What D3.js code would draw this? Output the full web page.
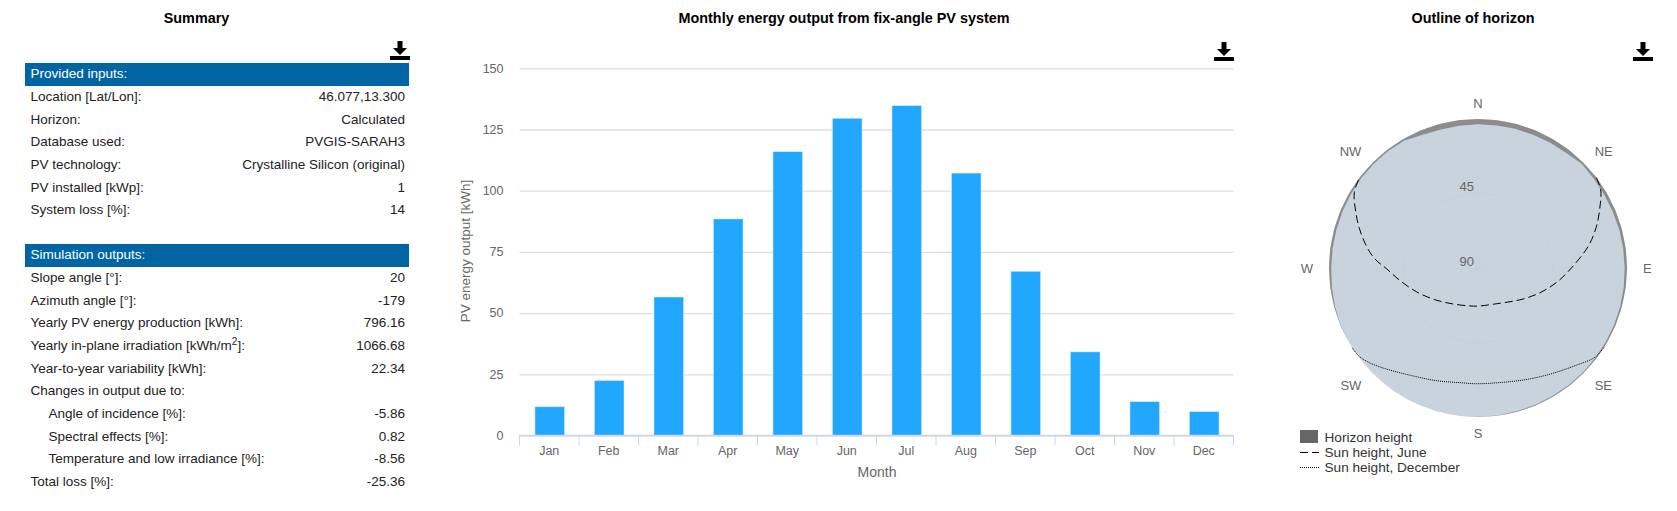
<!DOCTYPE html>
<html>
<head>
<meta charset="utf-8">
<script src="https://cdn.jsdelivr.net/npm/d3@7"></script>
<style>
    html, body { margin: 0; padding: 0; background: #fff; overflow: hidden; }
    svg { display: block; font-family: "Liberation Sans", Arial, sans-serif; }
    .title { font-size: 14.4px; font-weight: bold; text-anchor: middle; fill: #000; }
    .row { font-size: 13.5px; fill: #222; }
    .tick text { font-size: 12.5px; fill: #666; }
</style>
</head>
<body>
<div id="grafica"></div>
<script>
// summary table
const inputLabels = ["Location [Lat/Lon]:", "Horizon:", "Database used:", "PV technology:", "PV installed [kWp]:", "System loss [%]:"]
const inputValues = ["46.077,13.300", "Calculated", "PVGIS-SARAH3", "Crystalline Silicon (original)", "1", "14"]
const outputLabels = ["Slope angle [°]:", "Azimuth angle [°]:", "Yearly PV energy production [kWh]:", "Yearly in-plane irradiation [kWh/m^2]:", "Year-to-year variability [kWh]:", "Changes in output due to:", "Angle of incidence [%]:", "Spectral effects [%]:", "Temperature and low irradiance [%]:", "Total loss [%]:"]
const outputValues = ["20", "-179", "796.16", "1066.68", "22.34", "", "-5.86", "0.82", "-8.56", "-25.36"]
const indentedRows = [6, 7, 8]

// monthly energy
const months = ["Jan", "Feb", "Mar", "Apr", "May", "Jun", "Jul", "Aug", "Sep", "Oct", "Nov", "Dec"]
const energy = [11.8, 22.5, 56.6, 88.5, 116, 129.6, 134.8, 107.2, 67.1, 34.2, 13.9, 9.8]
const energyTicks = [0, 25, 50, 75, 100, 125, 150]

// horizon, azimuth in degrees from north, heights in degrees
const horizonAz = d3.range(0, 360, 7.5)
const horizonHeight = [3.2, 3.2, 3.0, 2.9, 2.7, 2.4, 1.2, 1.6, 1.8, 1.8, 1.6, 1.5, 1.4, 1.2, 1.0, 0.9, 0.8, 0.7, 0.6, 0.6, 0.6, 0.5, 0.4, 0.2, 0.1, 0, 0, 0, 0, 0, 0, 0, 0, 0.2, 0.5, 1.0, 1.3, 1.4, 1.4, 1.3, 1.2, 1.0, 0.9, 0.9, 1.1, 2.8, 3.4, 3.3]
const juneAz = [52.6, 57.6, 63.9, 70.8, 79, 90, 99.4, 110.8, 124.6, 155, 180, 191.9, 214.5, 233.6, 248.6, 260.8, 269.4, 275, 280.8, 288.5, 294.7, 301.5, 307.4]
const juneHeight = [0, 2.2, 8.1, 14.3, 22.3, 33.6, 41, 49.1, 57, 66, 67, 66.6, 63.6, 57.7, 50.3, 42.3, 34.9, 27.5, 21.6, 14.4, 8.7, 2.4, 0]
const decemberAz = [122, 127.4, 135.3, 146.7, 158.9, 180, 188.9, 200.1, 212.4, 222.1, 228.7, 233.6, 237.9]
const decemberHeight = [0, 1.2, 6.9, 12.9, 17.3, 20.1, 19.9, 17.5, 13.3, 7.7, 3.1, 0.5, 0]
const compass = ["N", "NE", "E", "SE", "S", "SW", "W", "NW"]
const ringTicks = [45, 90]

const svg = d3.select("#grafica").append("svg")
    .attr("width", 1677)
    .attr("height", 511)

function downloadIcon(x, y) {
    const g = svg.append("g").attr("transform", "translate(" + x + "," + y + ")").attr("fill", "#000")
    g.append("path").attr("d", "M7.5 0h5v7h4.5l-7 7-7-7h4.500z")
    g.append("rect").attr("x", 0).attr("y", 15).attr("width", 20).attr("height", 4)
}

function addTitle(text, x) {
    svg.append("text").attr("class", "title").attr("x", x).attr("y", 23).text(text)
}

addTitle("Summary", 196.500)
addTitle("Monthly energy output from fix-angle PV system", 844)
addTitle("Outline of horizon", 1473)
downloadIcon(390, 41)
downloadIcon(1214, 42)
downloadIcon(1633, 42)

// ---- table ----
function tableBlock(heading, top, labels, values) {
    svg.append("rect").attr("x", 25).attr("y", top).attr("width", 384).attr("height", 23).attr("fill", "#0065a2")
    svg.append("text").attr("x", 30.500).attr("y", top + 15).attr("fill", "#fff")
        .style("font-size", "13.5px").text(heading)

    labels.forEach((label, i) => {
        const y = top + 37.800 + i * 22.700
        const isIndented = values === outputValues && indentedRows.includes(i)
        const t = svg.append("text").attr("class", "row").attr("x", isIndented ? 48.500 : 30.500).attr("y", y)
        const parts = label.split("^2")
        t.append("tspan").text(parts[0])
        if (parts.length > 1) {
            t.append("tspan").attr("dy", -5).style("font-size", "10px").text("2")
            t.append("tspan").attr("dy", 5).text(parts[1])
        }
        svg.append("text").attr("class", "row").attr("x", 405).attr("y", y)
            .attr("text-anchor", "end").text(values[i])
    })
}

tableBlock("Provided inputs:", 63, inputLabels, inputValues)
tableBlock("Simulation outputs:", 244, outputLabels, outputValues)

// ---- bar chart ----
const xScale = d3.scaleBand()
    .domain(months)
    .range([519.500, 1233.500])
    .paddingInner(0.5)
    .paddingOuter(0.25)

const yScale = d3.scaleLinear()
    .domain([0, 150])
    .range([435.500, 68.300])

const yAxis = d3.axisLeft(yScale).tickValues(energyTicks).tickSize(-714).tickPadding(16)
const yG = svg.append("g").attr("transform", "translate(519.500,0)").call(yAxis)
yG.select(".domain").remove()
yG.selectAll(".tick line").attr("stroke", "#dedede").attr("stroke-width", 1.3)
yG.selectAll(".tick text").attr("dy", "0.3em")

svg.selectAll("rect.bar")
    .data(energy)
    .enter()
    .append("rect")
    .attr("class", "bar")
    .attr("x", (d, i) => xScale(months[i]) + 0.5)
    .attr("y", d => yScale(d))
    .attr("width", xScale.bandwidth())
    .attr("height", d => yScale(0) - yScale(d))
    .attr("fill", "#22a7ff")
    .attr("stroke", "#fff")
    .attr("stroke-opacity", 0.5)

// band axis ticks sit on the band edges, not the centres
const xG = svg.append("g").attr("transform", "translate(0,435.500)").call(d3.axisBottom(xScale).tickSize(0).tickPadding(11))
xG.select(".domain").attr("stroke", "#ccd6eb").attr("stroke-width", 1.5).attr("d", "M519.500,0H1233.500")
xG.selectAll(".tick text").attr("dy", "0.71em")
const edges = xScale.step()
svg.append("g").selectAll("line")
    .data(d3.range(months.length + 1))
    .enter()
    .append("line")
    .attr("x1", i => 519.500 + i * edges)
    .attr("x2", i => 519.500 + i * edges)
    .attr("y1", 435.500)
    .attr("y2", 445.500)
    .attr("stroke", "#ccd6eb")

svg.append("text")
    .attr("text-anchor", "middle")
    .attr("x", 877)
    .attr("y", 477)
    .attr("fill", "#666")
    .style("font-size", "14px")
    .text("Month")

svg.append("text")
    .attr("text-anchor", "middle")
    .attr("transform", "translate(470,251) rotate(-90)")
    .attr("fill", "#666")
    .style("font-size", "13.500px")
    .text("PV energy output [kWh]")

// ---- polar chart ----
const cx = 1478, cy = 268, radius = 149
const rScale = d3.scaleLinear().domain([0, 90]).range([radius, 0])
const toRad = d => d * Math.PI / 180

const polar = svg.append("g").attr("transform", "translate(" + cx + "," + cy + ")")

polar.append("circle").attr("r", radius).attr("fill", "#c8d3dd")

// spokes and rings
polar.selectAll("line.spoke")
    .data(compass)
    .enter()
    .append("line")
    .attr("class", "spoke")
    .attr("x2", (d, i) => radius * Math.sin(toRad(i * 45)))
    .attr("y2", (d, i) => -radius * Math.cos(toRad(i * 45)))
    .attr("stroke", "#c5d0da")

polar.selectAll("circle.ring")
    .data(ringTicks)
    .enter()
    .append("circle")
    .attr("class", "ring")
    .attr("r", d => rScale(d))
    .attr("fill", "none")
    .attr("stroke", "#c5d0da")

const horizonArea = d3.areaRadial()
    .angle(d => toRad(d[0]))
    .innerRadius(d => rScale(d[1]))
    .outerRadius(radius)
    .curve(d3.curveLinearClosed)

polar.append("path")
    .attr("d", horizonArea(horizonAz.map((a, i) => [a, horizonHeight[i]])))
    .attr("fill", "#8c8c8c")

const sunLine = d3.lineRadial()
    .angle(d => toRad(d[0]))
    .radius(d => rScale(d[1]))
    .curve(d3.curveCatmullRom.alpha(0.5))

polar.append("path")
    .attr("d", sunLine(juneAz.map((a, i) => [a, juneHeight[i]])))
    .attr("fill", "none")
    .attr("stroke", "#000")
    .attr("stroke-dasharray", "8,4")

polar.append("path")
    .attr("d", sunLine(decemberAz.map((a, i) => [a, decemberHeight[i]])))
    .attr("fill", "none")
    .attr("stroke", "#000")
    .attr("stroke-dasharray", "1,1")

polar.selectAll("text.compass")
    .data(compass)
    .enter()
    .append("text")
    .attr("class", "compass")
    .attr("x", (d, i) => 165 * Math.sin(toRad(i * 45)))
    .attr("y", (d, i) => -165 * Math.cos(toRad(i * 45)) + 5)
    .attr("text-anchor", (d, i) => i % 4 == 0 ? "middle" : (i < 4 ? "start" : "end"))
    .attr("fill", "#666")
    .style("font-size", "13px")
    .text(d => d)

polar.selectAll("text.ringLabel")
    .data(ringTicks)
    .enter()
    .append("text")
    .attr("class", "ringLabel")
    .attr("x", -4)
    .attr("y", d => -rScale(d) - 2.5)
    .attr("text-anchor", "end")
    .attr("fill", "#666")
    .style("font-size", "13px")
    .text(d => d)

// legend
svg.append("rect").attr("x", 1300).attr("y", 430).attr("width", 18).attr("height", 13).attr("fill", "#666")
svg.append("line").attr("x1", 1300).attr("x2", 1319).attr("y1", 452.500).attr("y2", 452.500)
    .attr("stroke", "#000").attr("stroke-dasharray", "8,4")
svg.append("line").attr("x1", 1300).attr("x2", 1319).attr("y1", 467.500).attr("y2", 467.500)
    .attr("stroke", "#000").attr("stroke-dasharray", "1,1")
const legendNames = ["Horizon height", "Sun height, June", "Sun height, December"]
legendNames.forEach((name, i) => {
    svg.append("text").attr("x", 1324.500).attr("y", 442 + i * 15).attr("fill", "#333")
        .style("font-size", "13.6px").text(name)
})
</script>
</body>
</html>
